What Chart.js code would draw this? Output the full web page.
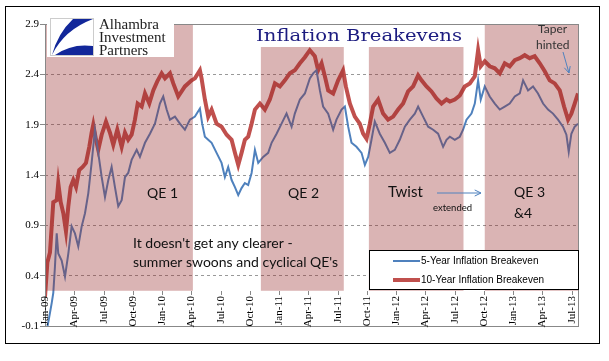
<!DOCTYPE html>
<html>
<head>
<meta charset="utf-8">
<script src="https://cdn.jsdelivr.net/npm/chart.js@4"></script>
<style>
body{margin:0;background:#fff;}
canvas{display:block;}
</style>
</head>
<body>
<canvas id="chart" width="609" height="361"></canvas>
<script>
// months since Jan-2009 and values
const tenM=[0,0.24,0.51,0.85,1.20,1.36,1.61,1.88,2.15,2.39,2.63,2.90,3.18,3.51,3.86,4.20,4.54,4.78,4.95,5.23,5.46,5.81,6.25,6.66,7.00,7.41,7.86,8.20,8.53,8.88,9.22,9.50,9.91,10.25,10.69,11.10,11.51,11.96,12.30,12.81,13.15,13.66,14.34,15.03,15.37,15.88,16.05,16.39,16.73,17.08,17.59,18.10,18.62,19.13,19.47,19.81,20.15,20.49,20.83,21.18,21.52,22.03,22.54,23.05,23.57,24.08,24.59,25.10,25.61,26.13,26.64,27.15,27.66,28.00,28.35,28.69,29.03,29.54,30.05,30.56,30.84,31.25,31.76,32.27,32.61,32.96,33.30,33.64,34.15,34.66,35.17,35.69,36.20,36.71,37.22,37.74,38.25,38.60,39.11,39.62,40.13,40.65,41.16,41.50,42.01,42.52,43.03,43.55,44.06,44.40,44.67,45.08,45.59,46.11,46.62,47.13,47.64,48.16,48.67,49.18,49.69,50.20,50.72,51.23,51.74,52.25,52.77,53.21,53.62,53.96,54.30,54.64];
const tenV=[0.19,0.53,0.63,1.13,1.15,1.32,1.13,1.02,0.84,1.09,1.28,1.35,1.28,1.45,1.48,1.52,1.68,1.82,1.90,1.75,1.65,1.80,1.93,1.82,1.70,1.85,1.68,1.82,1.75,1.80,1.95,2.11,2.08,2.21,2.11,2.24,2.33,2.41,2.36,2.41,2.31,2.18,2.28,2.34,2.36,2.44,2.36,2.15,1.98,2.05,1.91,1.88,1.80,1.75,1.62,1.50,1.62,1.75,1.78,1.91,2.05,2.11,2.05,2.15,2.31,2.28,2.34,2.41,2.44,2.51,2.57,2.64,2.58,2.44,2.51,2.38,2.24,2.21,2.34,2.44,2.28,2.11,1.98,1.91,1.81,1.76,1.91,2.08,2.15,2.01,1.95,1.98,2.05,2.11,2.23,2.28,2.39,2.34,2.28,2.23,2.16,2.11,2.15,2.13,2.15,2.19,2.28,2.31,2.38,2.64,2.48,2.53,2.48,2.46,2.41,2.51,2.48,2.54,2.56,2.59,2.56,2.58,2.51,2.43,2.34,2.31,2.24,2.08,1.95,2.01,2.11,2.21];

const fiveM=[0.17,0.51,0.69,0.85,1.02,1.20,1.36,1.71,2.05,2.39,2.73,3.07,3.41,3.76,4.10,4.44,4.78,5.12,5.46,5.81,6.15,6.49,6.83,7.17,7.51,7.86,8.20,8.53,8.88,9.40,9.73,10.25,10.76,11.27,11.78,12.12,12.47,12.81,13.32,13.83,14.34,14.86,15.37,15.88,16.11,16.39,16.73,17.08,17.59,18.10,18.44,18.78,19.13,19.47,19.81,20.15,20.49,20.83,21.18,21.52,21.86,22.37,22.88,23.23,23.74,24.25,24.76,25.28,25.61,26.13,26.64,27.15,27.49,27.83,28.18,28.51,29.03,29.54,29.88,30.40,30.74,31.08,31.42,31.93,32.45,32.79,33.13,33.47,33.81,34.32,34.84,35.35,35.86,36.37,36.89,37.40,37.91,38.25,38.76,39.28,39.79,40.30,40.81,41.16,41.50,42.01,42.52,42.86,43.21,43.72,44.06,44.40,44.67,45.08,45.59,46.11,46.62,47.13,47.64,48.16,48.67,49.01,49.52,50.03,50.54,51.06,51.57,52.08,52.59,53.10,53.45,53.69,53.96,54.30,54.64];
const fiveV=[-0.15,0.03,0.13,0.23,0.49,0.82,0.62,0.55,0.39,0.62,0.89,0.82,0.69,0.89,1.02,1.22,1.52,1.85,1.62,1.38,1.18,1.35,1.48,1.28,1.09,1.15,1.38,1.42,1.55,1.65,1.58,1.72,1.81,1.91,2.11,2.18,2.05,1.95,1.98,1.91,1.85,1.95,1.98,2.06,1.91,1.78,1.75,1.72,1.62,1.52,1.38,1.48,1.35,1.28,1.20,1.27,1.32,1.30,1.42,1.65,1.52,1.58,1.62,1.72,1.81,1.91,2.01,1.88,2.01,2.15,2.21,2.36,2.41,2.44,2.24,2.08,2.01,1.85,1.95,2.05,2.08,1.88,1.72,1.68,1.62,1.50,1.58,1.75,1.93,1.81,1.72,1.62,1.65,1.75,1.88,1.95,2.01,2.08,1.98,1.88,1.85,1.81,1.68,1.75,1.78,1.75,1.78,1.85,1.95,2.01,2.11,2.34,2.15,2.28,2.18,2.11,2.05,2.08,2.11,2.18,2.21,2.34,2.24,2.28,2.21,2.11,2.05,2.01,1.95,1.88,1.80,1.63,1.81,1.88,1.91];

const xTickLabels=['Jan-09','Apr-09','Jul-09','Oct-09','Jan-10','Apr-10','Jul-10','Oct-10','Jan-11','Apr-11','Jul-11','Oct-11','Jan-12','Apr-12','Jul-12','Oct-12','Jan-13','Apr-13','Jul-13'];
const xTickMonths=[0,3,6,9,12,15,18,21,24,27,30,33,36,39,42,45,48,51,54];
const yTicks=[-0.1,0.4,0.9,1.4,1.9,2.4,2.9];

// QE programs (months)
const qeStart=[0,22.13,33.2,45.08];
const qeEnd=[15.16,30.63,42.9,54.64];
const shadeFloor=0.25;

const pts=(m,v)=>m.map((x,i)=>({x:x,y:v[i]}));

function arrow(ctx,x1,y1,x2,y2){
ctx.beginPath();ctx.moveTo(x1,y1);ctx.lineTo(x2,y2);ctx.stroke();
let a=Math.atan2(y2-y1,x2-x1),h=7;
ctx.beginPath();
ctx.moveTo(x2-h*Math.cos(a-0.45),y2-h*Math.sin(a-0.45));
ctx.lineTo(x2,y2);
ctx.lineTo(x2-h*Math.cos(a+0.45),y2-h*Math.sin(a+0.45));
ctx.stroke();
}

const deco={
id:'deco',
afterDatasetsDraw(chart){
const {ctx,chartArea:ca,scales:{x,y}}=chart;
ctx.save();
// shaded QE periods over the lines
ctx.fillStyle='rgba(150,40,40,0.35)';
let t=y.getPixelForValue(2.9),b=y.getPixelForValue(shadeFloor);
qeStart.forEach((s,i)=>{
let l=x.getPixelForValue(s),r=x.getPixelForValue(qeEnd[i]);
ctx.fillRect(l,t,r-l,b-t);
});
// plot border
ctx.strokeStyle='#888';ctx.lineWidth=1;
ctx.strokeRect(Math.round(ca.left)+0.5,Math.round(ca.top)+0.5,Math.round(ca.width),Math.round(ca.height));

// title
ctx.fillStyle='#fff';
ctx.fillRect(249,25,216,22);
ctx.fillStyle='#1c1c80';
ctx.font='17px "DejaVu Serif"';
ctx.textBaseline='middle';ctx.textAlign='center';
let tw=ctx.measureText('Inflation Breakevens').width;
ctx.save();ctx.translate(359,37);ctx.scale(206/tw,1);
ctx.fillText('Inflation Breakevens',0,0);
ctx.restore();

// logo
ctx.fillStyle='#fff';
ctx.fillRect(47,16,127,41);
ctx.strokeStyle='#ccc';
ctx.strokeRect(50.5,18.5,43,37);
ctx.fillStyle='#12279a';
ctx.beginPath();
ctx.moveTo(73,19);ctx.lineTo(93,19);
ctx.quadraticCurveTo(64,30,52,55);
ctx.quadraticCurveTo(58,33,73,19);
ctx.fill();
ctx.beginPath();
ctx.moveTo(55,55);
ctx.quadraticCurveTo(72,43,93,46);
ctx.lineTo(93,55);ctx.closePath();ctx.fill();
ctx.fillStyle='#222';ctx.textAlign='left';
ctx.font='15px "Liberation Serif"';
ctx.fillText('Alhambra',99,25);
ctx.fillText('Investment',99,38);
ctx.fillText('Partners',99,51);

// annotations
ctx.fillStyle='#111';
ctx.font='14px Lato';
ctx.fillText('QE 1',147,193);
ctx.fillText('QE 2',288,193);
ctx.fillText('QE 3',514,192);
ctx.fillText('&4',514,213);
ctx.font='15px Lato';
ctx.fillText('Twist',388,192);
ctx.font='14px Lato';
ctx.fillText("It doesn't get any clearer -",133,243);
ctx.fillText("summer swoons and cyclical QE's",133,262);
ctx.font='9.5px Lato';
ctx.fillText('extended',433,208);
ctx.fillStyle='#333';
ctx.font='12px Lato';
ctx.fillText('Taper',538,29);
ctx.fillText('hinted',536,45);
ctx.strokeStyle='#4f81bd';ctx.lineWidth=1;
arrow(ctx,437,193,481,193);
arrow(ctx,563,52,569,73);

// legend
ctx.fillStyle='#fff';
ctx.fillRect(369,250,209,39);
ctx.strokeStyle='#000';ctx.lineWidth=1;
ctx.strokeRect(369.5,250.5,209,39);
chart.data.datasets.forEach((d,i)=>{
let ly=261+i*19;
ctx.strokeStyle=d.borderColor;ctx.lineWidth=d.borderWidth;
ctx.beginPath();ctx.moveTo(393,ly);ctx.lineTo(420,ly);ctx.stroke();
ctx.fillStyle='#000';ctx.font='10px "Liberation Sans"';
ctx.fillText(d.label,421,ly);
});

// x tick marks and rotated labels inside the plot
ctx.strokeStyle='#888';ctx.lineWidth=1;
ctx.font='11px "Liberation Serif"';ctx.fillStyle='#000';
xTickMonths.forEach((m,i)=>{
let px=Math.round(x.getPixelForValue(m))+0.5;
ctx.beginPath();ctx.moveTo(px,291);ctx.lineTo(px,295);ctx.stroke();
ctx.save();ctx.translate(px,296);ctx.rotate(-Math.PI/2);
ctx.textAlign='right';ctx.textBaseline='middle';
ctx.fillText(xTickLabels[i],0,0);
ctx.restore();
});

// outer frame
ctx.strokeStyle='#000';ctx.lineWidth=1;
ctx.strokeRect(5.5,6.5,594,337);
ctx.restore();
}
};

new Chart(document.getElementById('chart'),{
type:'line',
data:{datasets:[
{label:'5-Year Inflation Breakeven',data:pts(fiveM,fiveV),borderColor:'#4f81bd',borderWidth:2,pointRadius:0,tension:0},
{label:'10-Year Inflation Breakeven',data:pts(tenM,tenV),borderColor:'#c0504d',borderWidth:4,pointRadius:0,tension:0}
]},
options:{
responsive:false,animation:false,devicePixelRatio:1,
layout:{padding:{left:5,top:24,right:31,bottom:35}},
plugins:{legend:{display:false},tooltip:{enabled:false}},
scales:{
x:{type:'linear',min:0,max:54.64,display:false},
y:{min:-0.1,max:2.9,
afterBuildTicks:s=>{s.ticks=yTicks.map(v=>({value:v}));},
afterFit:s=>{s.width=40;},
ticks:{callback:v=>v.toFixed(1),color:'#000',padding:1,font:{family:'Liberation Serif',size:11}},
grid:{color:c=>(c.tick&&(c.tick.value===-0.1||c.tick.value===2.9))?'rgba(0,0,0,0)':'#999',tickColor:'#888',tickLength:5,tickBorderDash:[]},
border:{display:false,dash:[3,3]}
}
}
},
plugins:[deco]
});
</script>
</body>
</html>
